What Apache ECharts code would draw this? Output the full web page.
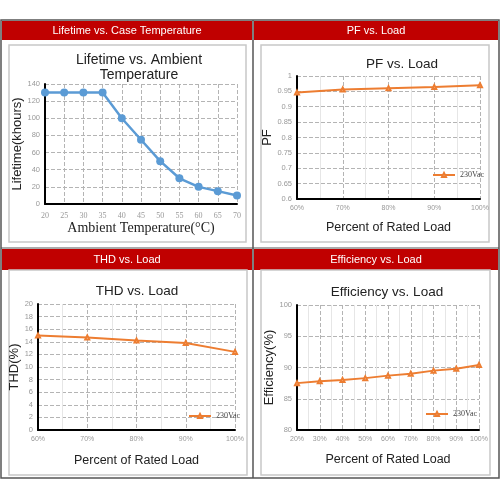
<!DOCTYPE html>
<html>
<head>
<meta charset="utf-8">
<title>LED driver curves</title>
<script src="https://cdn.jsdelivr.net/npm/echarts@6/dist/echarts.min.js"></script>
<style>
    html, body { margin: 0; padding: 0; background: #fff; }
    #main { width: 500px; height: 500px; }
</style>
</head>
<body>
<div id="main"></div>
<script>
// 数据
var tempC = [20, 25, 30, 35, 40, 45, 50, 55, 60, 65, 70];
var lifetime = [130, 130, 130, 130, 100, 75, 50, 30, 20, 15, 10];

var pfLoad = [60, 70, 80, 90, 100];
var pfValues = [0.946, 0.956, 0.96, 0.964, 0.97];

var thdLoad = [60, 70, 80, 90, 100];
var thdValues = [15.0, 14.7, 14.2, 13.8, 12.4];

var effLoad = [20, 30, 40, 50, 60, 70, 80, 90, 100];
var effValues = [87.5, 87.8, 88.0, 88.3, 88.7, 89.0, 89.5, 89.8, 90.4];

var headers = ['Lifetime vs. Case Temperature', 'PF vs. Load', 'THD vs. Load', 'Efficiency vs. Load'];

function pairs(xs, ys) {
    return xs.map(function (x, i) { return [x, ys[i]]; });
}

var ORANGE = '#ED7D31';
var BLUE = '#5B9BD5';
var GRID_LINE = { show: true, lineStyle: { color: '#b4b4b4', type: 'dashed', width: 1 } };
var MINOR_LINE = { show: true, lineStyle: { color: '#e6e6e6', width: 1 } };
var AXIS_LINE = { show: true, onZero: false, lineStyle: { color: '#000', width: 2 } };
var NAME_STYLE = { fontFamily: 'Liberation Sans', fontSize: 12.5, color: '#222' };

function xAxisPct(idx, min, max, gap) {
    return {
        type: 'value', gridIndex: idx, min: min, max: max, interval: 10,
        axisLine: AXIS_LINE, axisTick: { show: false },
        axisLabel: { margin: 6, fontSize: 7, color: '#999', fontFamily: 'Liberation Sans', formatter: '{value}%' },
        splitLine: GRID_LINE,
        minorTick: { show: false, splitNumber: 2 },
        minorSplitLine: MINOR_LINE,
        name: 'Percent of Rated Load', nameLocation: 'middle', nameGap: gap,
        nameTextStyle: NAME_STYLE
    };
}

function yAxis(idx, min, max, interval, name, gap) {
    return {
        type: 'value', gridIndex: idx, min: min, max: max, interval: interval,
        axisLine: AXIS_LINE, axisTick: { show: false },
        axisLabel: { margin: 5, fontSize: 7.5, color: '#999', fontFamily: 'Liberation Sans' },
        splitLine: GRID_LINE,
        name: name, nameLocation: 'middle', nameGap: gap,
        nameTextStyle: { fontFamily: 'Liberation Sans', fontSize: 13, color: '#222' }
    };
}

function orangeSeries(idx, data) {
    return {
        name: '230Vac', type: 'line', xAxisIndex: idx, yAxisIndex: idx,
        data: data, symbol: 'emptyTriangle', symbolSize: 4,
        lineStyle: { color: ORANGE, width: 2 },
        itemStyle: { color: ORANGE },
        animation: false
    };
}

function legendAt(idx, left, top) {
    return {
        data: ['230Vac'], left: left, top: top, orient: 'horizontal',
        itemWidth: 22, itemHeight: 5, itemGap: 2,
        textStyle: { fontSize: 8, color: '#444', fontFamily: 'Liberation Serif' },
        selectedMode: false
    };
}

// 外框与红色标题栏
var graphics = [
    { type: 'rect', shape: { x: 1, y: 20, width: 498, height: 458 }, style: { fill: '#fff', stroke: '#555', lineWidth: 1.5 } },
    { type: 'rect', shape: { x: 2, y: 21, width: 250, height: 19 }, style: { fill: '#C00000' } },
    { type: 'rect', shape: { x: 254, y: 21, width: 244, height: 19 }, style: { fill: '#C00000' } },
    { type: 'rect', shape: { x: 2, y: 249, width: 250, height: 21 }, style: { fill: '#C00000' } },
    { type: 'rect', shape: { x: 254, y: 249, width: 244, height: 21 }, style: { fill: '#C00000' } },
    { type: 'line', shape: { x1: 1, y1: 248, x2: 499, y2: 248 }, style: { stroke: '#555', lineWidth: 1 } },
    { type: 'line', shape: { x1: 253, y1: 20, x2: 253, y2: 478 }, style: { stroke: '#555', lineWidth: 1.5 } },
    // 内框
    { type: 'rect', shape: { x: 9, y: 45, width: 237, height: 197 }, style: { fill: 'none', stroke: '#c8c8c8', lineWidth: 1.5 } },
    { type: 'rect', shape: { x: 261, y: 45, width: 228, height: 197 }, style: { fill: 'none', stroke: '#c8c8c8', lineWidth: 1.5 } },
    { type: 'rect', shape: { x: 9, y: 270, width: 238, height: 205 }, style: { fill: 'none', stroke: '#c8c8c8', lineWidth: 1.5 } },
    { type: 'rect', shape: { x: 261, y: 270, width: 229, height: 205 }, style: { fill: 'none', stroke: '#c8c8c8', lineWidth: 1.5 } }
];
var headerPos = [[127, 30.5], [376, 30.5], [127, 259.5], [376, 259.5]];
headers.forEach(function (t, i) {
    graphics.push({
        type: 'text', x: headerPos[i][0], y: headerPos[i][1],
        style: { text: t, fill: '#fff', fontSize: 11, fontFamily: 'Liberation Sans', align: 'center', verticalAlign: 'middle' }
    });
});

var myChart = echarts.init(document.getElementById('main'));

var option = {
    backgroundColor: '#fff',
    animation: false,
    graphic: { elements: graphics },
    title: [
        { text: 'Lifetime vs. Ambient\nTemperature', left: 134, top: 48, textAlign: 'center',
          textStyle: { fontFamily: 'Liberation Sans', fontSize: 14, fontWeight: 'normal', color: '#222', lineHeight: 15 } },
        { text: 'PF vs. Load', left: 397, top: 52, textAlign: 'center',
          textStyle: { fontFamily: 'Liberation Sans', fontSize: 13.5, fontWeight: 'normal', color: '#222' } },
        { text: 'THD vs. Load', left: 132, top: 279, textAlign: 'center',
          textStyle: { fontFamily: 'Liberation Sans', fontSize: 13.5, fontWeight: 'normal', color: '#222' } },
        { text: 'Efficiency vs. Load', left: 382, top: 280, textAlign: 'center',
          textStyle: { fontFamily: 'Liberation Sans', fontSize: 13.5, fontWeight: 'normal', color: '#222' } }
    ],
    legend: [
        legendAt(1, 427, 166),
        legendAt(2, 183, 407),
        legendAt(3, 420, 405)
    ],
    grid: [
        { left: 45, right: 263, top: 84, bottom: 296 },
        { left: 297, right: 20, top: 76, bottom: 301 },
        { left: 38, right: 265, top: 304, bottom: 70 },
        { left: 297, right: 21, top: 305, bottom: 70 }
    ],
    xAxis: [
        {
            type: 'value', gridIndex: 0, min: 20, max: 70, interval: 5,
            axisLine: AXIS_LINE, axisTick: { show: false },
            axisLabel: { margin: 8, fontSize: 8, color: '#999', fontFamily: 'Liberation Serif' },
            splitLine: GRID_LINE,
            name: 'Ambient Temperature(°C)', nameLocation: 'middle', nameGap: 17,
            nameTextStyle: { fontFamily: 'Liberation Serif', fontSize: 14, color: '#222' }
        },
        xAxisPct(1, 60, 100, 22),
        xAxisPct(2, 60, 100, 24),
        xAxisPct(3, 20, 100, 23)
    ],
    yAxis: [
        yAxis(0, 0, 140, 20, 'Lifetime(khours)', 18),
        yAxis(1, 0.6, 1, 0.05, 'PF', 19),
        yAxis(2, 0, 20, 2, 'THD(%)', 11),
        yAxis(3, 80, 100, 5, 'Efficiency(%)', 18)
    ],
    series: [
        {
            name: 'Lifetime', type: 'line', xAxisIndex: 0, yAxisIndex: 0,
            data: pairs(tempC, lifetime), symbol: 'circle', symbolSize: 8,
            lineStyle: { color: BLUE, width: 2.5 },
            itemStyle: { color: BLUE }
        },
        orangeSeries(1, pairs(pfLoad, pfValues)),
        orangeSeries(2, pairs(thdLoad, thdValues)),
        orangeSeries(3, pairs(effLoad, effValues))
    ]
};

myChart.setOption(option);
</script>
</body>
</html>
